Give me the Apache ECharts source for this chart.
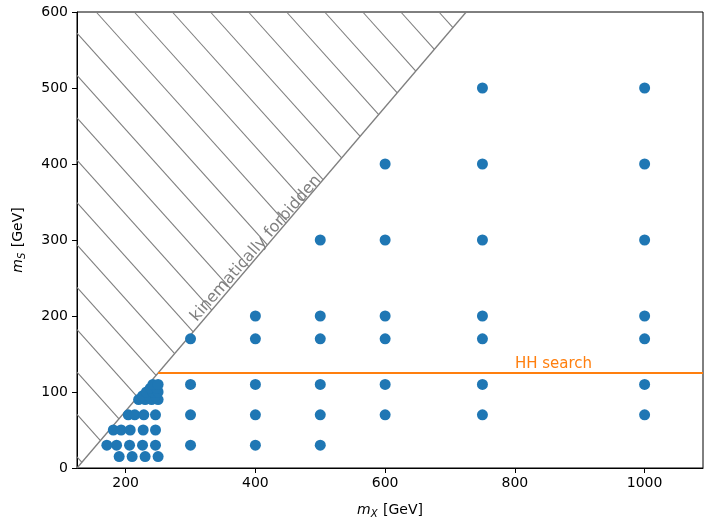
<!DOCTYPE html>
<html>
<head>
<meta charset="utf-8">
<script src="https://cdn.jsdelivr.net/npm/echarts@6/dist/echarts.min.js"></script>
<style>
  html, body { margin: 0; padding: 0; background: #fff; }
  #chart { width: 704px; height: 520px; }
</style>
</head>
<body>
<div id="chart"></div>
<script>
// signal grid points (m_X, m_S) in GeV
const massX = [
  190, 210, 230, 250,
  171, 186, 206, 226, 246, 300, 400, 500,
  181, 193, 207, 227, 246,
  204, 214, 228, 246, 300, 400, 500, 600, 750, 1000,
  220, 230, 240, 250, 226, 236, 246, 232, 242, 250, 238, 248, 242, 250,
  300, 400, 500, 600, 750, 1000,
  300, 400, 500, 600, 750, 1000,
  400, 500, 600, 750, 1000,
  500, 600, 750, 1000,
  600, 750, 1000,
  750, 1000
];
const massS = [
  15, 15, 15, 15,
  30, 30, 30, 30, 30, 30, 30, 30,
  50, 50, 50, 50, 50,
  70, 70, 70, 70, 70, 70, 70, 70, 70, 70,
  90, 90, 90, 90, 95, 95, 95, 100, 100, 100, 105, 105, 110, 110,
  110, 110, 110, 110, 110, 110,
  170, 170, 170, 170, 170, 170,
  200, 200, 200, 200, 200,
  300, 300, 300, 300,
  400, 400, 400,
  500, 500
];
const xTicks = [200, 400, 600, 800, 1000];
const xRange = [125, 1090];
const yRange = [0, 600];
const mH = 125;           // HH threshold / forbidden edge offset
const hhStart = 250;      // HH search line starts here
const hhLabelX = 800;

const points = massX.map((x, i) => [x, massS[i]]);

// hatch lines for the forbidden region (m_X < m_S + m_H)
const hatchSlope = 0.95;
const hatchStep = 58.7;
const hatchBase = 154.6 + yRange[1] / hatchSlope;
let hatch = [];
for (let k = -14; k <= 12; k++) {
  const c = hatchBase + k * hatchStep;
  if (c <= xRange[0]) continue;
  const xt = c - yRange[1] / hatchSlope;
  if (xt >= yRange[1] + mH) continue;
  let start;
  const y0 = hatchSlope * (c - xRange[0]);
  if (y0 <= yRange[1]) start = [xRange[0], y0];
  else start = [xt, yRange[1]];
  const xe = (hatchSlope * c + mH) / (1 + hatchSlope);
  hatch.push({ coords: [start, [xe, xe - mH]] });
}

const chart = echarts.init(document.getElementById('chart'));
const font = 'DejaVu Sans';
const axisName = {
  color: '#000', fontSize: 14, fontFamily: font,
  rich: {
    it: { fontStyle: 'italic', fontSize: 14, fontFamily: font, color: '#000' },
    sub: { fontStyle: 'italic', fontSize: 10, fontFamily: font, color: '#000', padding: [8, 1, 0, 0] }
  }
};
chart.setOption({
  animation: false,
  textStyle: { fontFamily: font },
  grid: {
    left: 77, right: 1, top: 12, bottom: 52, outerBoundsMode: 'none',
    show: true, borderColor: '#000', borderWidth: 1
  },
  xAxis: {
    type: 'value', min: xRange[0], max: xRange[1],
    name: '{it|m}{sub|X} [GeV]', nameLocation: 'middle', nameGap: 33,
    nameTextStyle: axisName,
    axisLine: { lineStyle: { color: '#000' } },
    axisTick: { length: 5, lineStyle: { color: '#000' }, customValues: xTicks },
    axisLabel: { color: '#000', fontSize: 14, margin: 8, customValues: xTicks, formatter: v => String(v) },
    splitLine: { show: false }
  },
  yAxis: {
    type: 'value', min: yRange[0], max: yRange[1], interval: 100,
    name: '{it|m}{sub|S} [GeV]', nameLocation: 'middle', nameGap: 50,
    nameTextStyle: axisName,
    axisLine: { show: true, lineStyle: { color: '#000' } },
    axisTick: { show: true, length: 5, lineStyle: { color: '#000' } },
    axisLabel: { color: '#000', fontSize: 14, margin: 9, formatter: v => String(v) },
    splitLine: { show: false }
  },
  series: [
    {
      type: 'lines', coordinateSystem: 'cartesian2d', silent: true,
      lineStyle: { color: '#7f7f7f', width: 1.1, opacity: 1 },
      data: hatch, z: 1
    },
    {
      type: 'line', silent: true, symbol: 'none',
      lineStyle: { color: '#7f7f7f', width: 1.3 },
      data: [[xRange[0], xRange[0] - mH], [yRange[1] + mH, yRange[1]]], z: 2
    },
    {
      type: 'line', silent: true, symbol: 'none',
      lineStyle: { color: '#ff7f0e', width: 2 },
      data: [[hhStart, mH], [xRange[1], mH]], z: 3
    },
    {
      type: 'scatter', symbolSize: 11,
      itemStyle: { color: '#1f77b4', opacity: 1 },
      data: points, z: 4
    }
  ]
});

const hhPos = chart.convertToPixel({ gridIndex: 0 }, [hhLabelX, mH]);
const kinPos = chart.convertToPixel({ gridIndex: 0 }, [401, 289]);
chart.setOption({
  graphic: [
    {
      type: 'text', x: hhPos[0], y: hhPos[1] - 1, z: 10,
      style: { text: 'HH search', fill: '#ff7f0e', font: '15px "DejaVu Sans"', textAlign: 'left', textVerticalAlign: 'bottom' }
    },
    {
      type: 'text', x: kinPos[0], y: kinPos[1], rotation: 48.6 * Math.PI / 180, z: 10,
      style: { text: 'kinematically forbidden', fill: '#808080', font: '16px "DejaVu Sans"', textAlign: 'center', textVerticalAlign: 'middle' }
    }
  ]
});
</script>
</body>
</html>
